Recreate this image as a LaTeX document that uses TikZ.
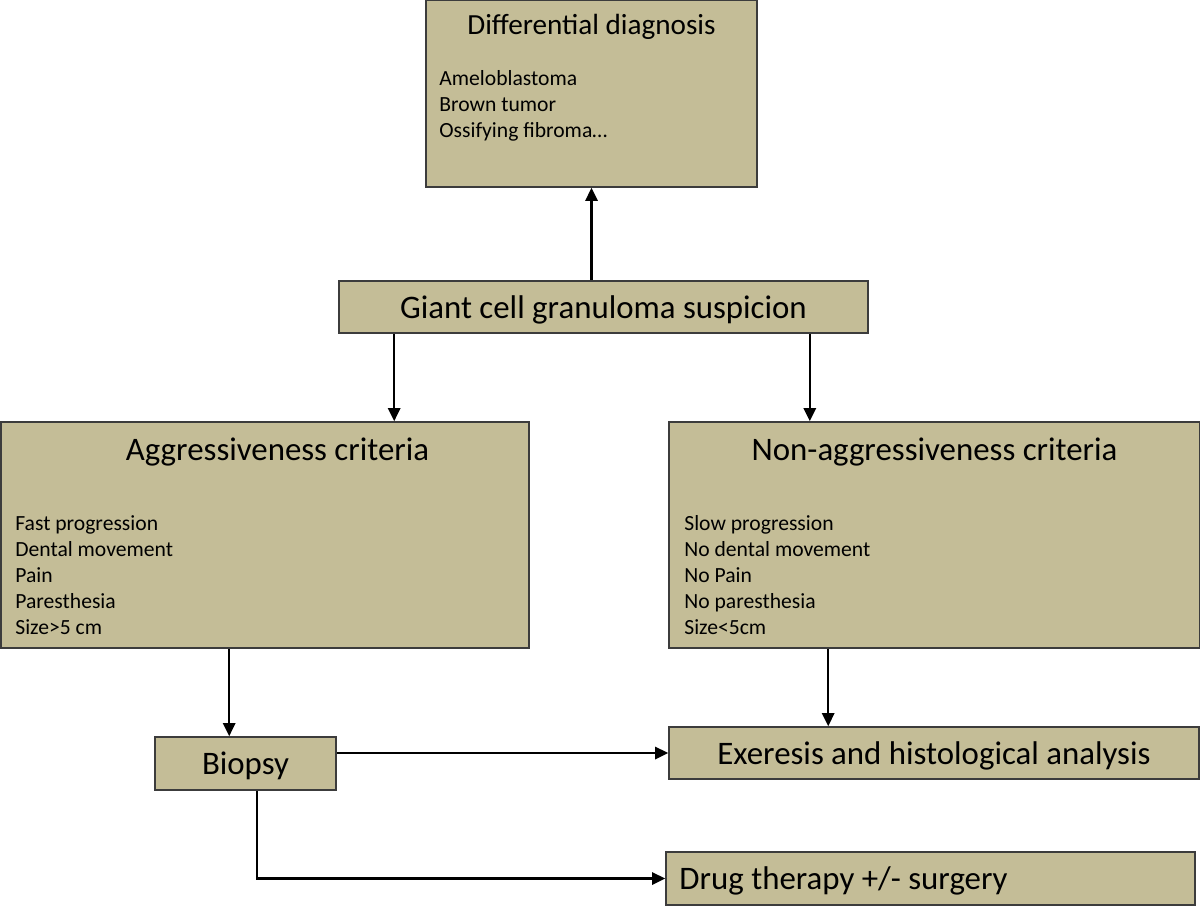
\documentclass[tikz,border=0pt]{standalone}
\usepackage{fontspec}
\setmainfont{Carlito}
\usetikzlibrary{arrows.meta}
\definecolor{boxfill}{HTML}{C4BD97}
\definecolor{boxline}{HTML}{3C3C3C}
\begin{document}
\begin{tikzpicture}[
    box/.style={draw=boxline, fill=boxfill, line width=0.9pt, inner sep=0pt},
    arr/.style={line width=1.3pt, -{Triangle[width=7pt, length=7.5pt]}},
    big/.style={font=\fontsize{18.7}{22}\selectfont, yshift=-0.05cm},
    small/.style={font=\fontsize{12.3}{14.8}\selectfont, align=left, inner sep=0pt}
]
        \useasboundingbox (0, 0) rectangle (24, -18.12);

        % boxes
        \node[box, minimum width=6.62cm, minimum height=3.74cm] (diff) at (11.83, -1.87) {};
        \node[box, minimum width=10.58cm, minimum height=1.04cm] (giant) at (12.07, -6.14) {};
        \node[box, minimum width=10.56cm, minimum height=4.52cm] (aggr) at (5.30, -10.70) {};
        \node[box, minimum width=10.62cm, minimum height=4.52cm] (nonaggr) at (18.69, -10.70) {};
        \node[box, minimum width=3.62cm, minimum height=1.06cm] (biopsy) at (4.91, -15.27) {};
        \node[box, minimum width=10.60cm, minimum height=1.04cm] (exer) at (18.68, -15.06) {};
        \node[box, minimum width=10.58cm, minimum height=1.06cm] (drug) at (18.61, -17.57) {};

        % texts
        \node[font=\fontsize{16.6}{19}\selectfont] (diffT) at (11.83, -0.54) {Differential diagnosis};
        \node[small, anchor=north west] (diffL) at (8.78, -1.40) {Ameloblastoma\\Brown tumor\\Ossifying fibroma\dots};
        \node[big] (giantT) at (giant.center) {Giant cell granuloma suspicion};
        \node[big] (aggrT) at (5.55, -8.99) {Aggressiveness criteria};
        \node[small, anchor=north west] (aggrL) at (0.30, -10.30) {Fast progression\\Dental movement\\Pain\\Paresthesia\\Size>5 cm};
        \node[big] (nonaggrT) at (18.69, -8.99) {Non-aggressiveness criteria};
        \node[small, anchor=north west] (nonaggrL) at (13.68, -10.30) {Slow progression\\No dental movement\\No Pain\\No paresthesia\\Size<5cm};
        \node[big] (biopsyT) at (biopsy.center) {Biopsy};
        \node[big] (exerT) at (exer.center) {Exeresis and histological analysis};
        \node[big, anchor=west] (drugT) at ([xshift=0.16cm]drug.west) {Drug therapy +/- surgery};

        % connectors
        \draw[arr] (giant.north -| diff.south) -- (diff.south);
        \draw[arr] ([xshift=1.12cm]giant.south west) -- ([xshift=1.12cm]giant.south west |- aggr.north);
        \draw[arr] ([xshift=-1.18cm]giant.south east) -- ([xshift=-1.18cm]giant.south east |- nonaggr.north);
        \draw[arr] ([xshift=4.58cm]aggr.south west) -- ([xshift=4.58cm]aggr.south west |- biopsy.north);
        \draw[arr] ([xshift=3.20cm]nonaggr.south west) -- ([xshift=3.20cm]nonaggr.south west |- exer.north);
        \draw[arr] (biopsy.east |- exer.west) -- (exer.west);
        \draw[arr] ([xshift=2.06cm]biopsy.south west) |- (drug.west);
    \end{tikzpicture}
\end{document}
